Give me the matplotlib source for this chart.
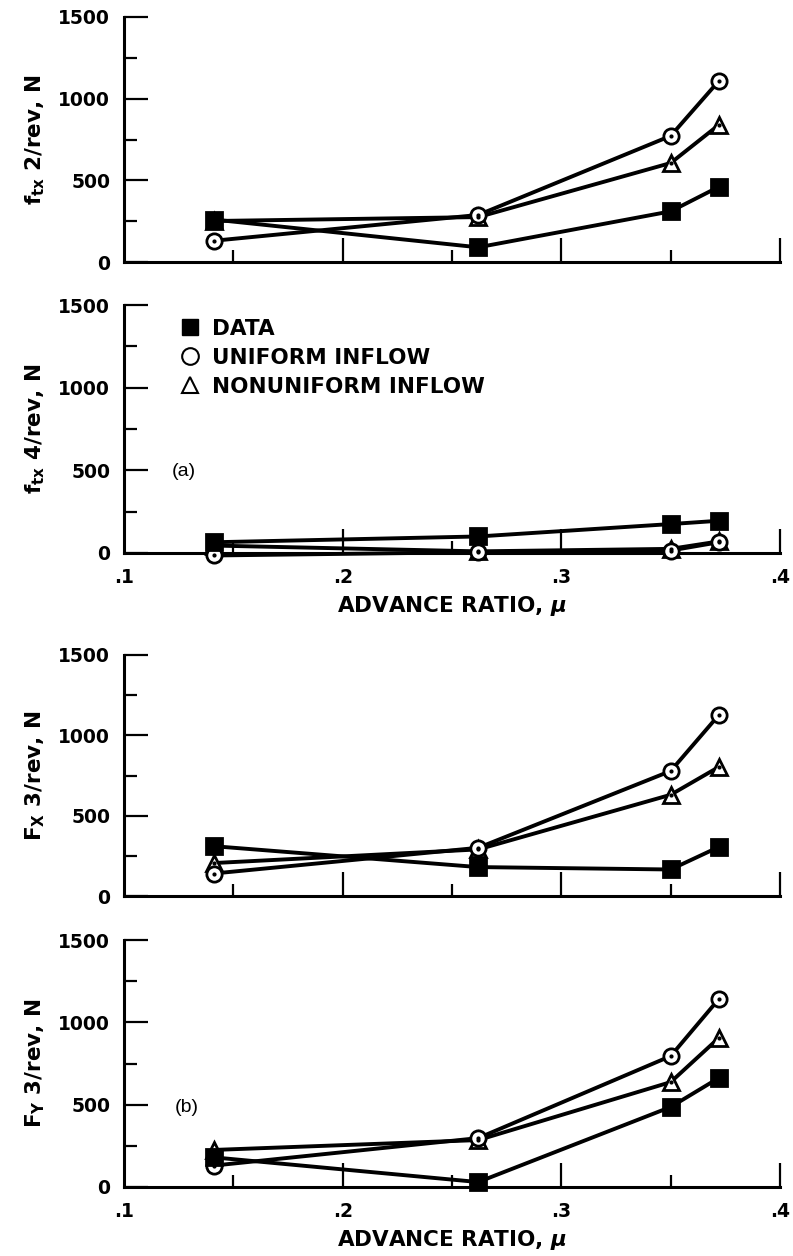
import numpy as np
import matplotlib
matplotlib.use('Agg')
import matplotlib.pyplot as plt
from matplotlib.lines import Line2D

plt.rcParams['font.family'] = ['DejaVu Sans']
plt.rcParams['font.weight'] = 'bold'
plt.rcParams['mathtext.fontset'] = 'custom'
plt.rcParams['mathtext.rm'] = 'DejaVu Sans:bold'
plt.rcParams['mathtext.it'] = 'DejaVu Sans:bold:italic'
plt.rcParams['mathtext.bf'] = 'DejaVu Sans:bold'

# advance ratio of the test points
mu = [0.141, 0.262, 0.350, 0.372]

# (a) blade chordwise force harmonics
ftx2_data = [260, 90, 310, 460]
ftx2_uniform = [130, 288, 772, 1108]
ftx2_nonuniform = [251, 275, 606, 839]

ftx4_data = [65, 100, 175, 195]
ftx4_uniform = [-15, 5, 15, 65]
ftx4_nonuniform = [45, 10, 25, 70]

# (b) hub forces 3/rev
fx3_data = [310, 180, 165, 305]
fx3_uniform = [140, 300, 778, 1126]
fx3_nonuniform = [205, 290, 630, 803]

fy3_data = [180, 30, 486, 662]
fy3_uniform = [130, 297, 795, 1141]
fy3_nonuniform = [225, 285, 637, 905]

ylabels = [r'$\mathrm{f_{tx}}$ 2/rev, N', r'$\mathrm{f_{tx}}$ 4/rev, N',
           r'$\mathrm{F_X}$ 3/rev, N', r'$\mathrm{F_Y}$ 3/rev, N']
xticks = [0.1, 0.2, 0.3, 0.4]
xticklabels = ['.1', '.2', '.3', '.4']
yticks = [0, 500, 1000, 1500]
legend_labels = ['DATA', 'UNIFORM INFLOW', 'NONUNIFORM INFLOW']

panels = [(ftx2_data, ftx2_uniform, ftx2_nonuniform),
          (ftx4_data, ftx4_uniform, ftx4_nonuniform),
          (fx3_data, fx3_uniform, fx3_nonuniform),
          (fy3_data, fy3_uniform, fy3_nonuniform)]

W, H = 793, 1256
fig = plt.figure(figsize=(W/100, H/100), dpi=100)

# axes boxes in pixels: (y of 1500, y of 0)
boxes = [(17, 262), (305, 553), (655, 896), (940, 1187)]
x0, x1 = 124, 780

def plot_series(ax, y, marker, fill):
    ax.plot(mu, y, '-', color='k', lw=2.8, zorder=3, clip_on=False)
    ax.plot(mu, y, linestyle='none', marker=marker, ms=11 if marker != 's' else 12,
            mfc=fill, mec='k', mew=2.0, zorder=4, clip_on=False)
    if fill == 'white':
        ax.plot(mu, y, linestyle='none', marker='o', ms=2, color='k', zorder=5,
                clip_on=False)

axes = []
for i, (top, bot) in enumerate(boxes):
    ax = fig.add_axes([x0/W, 1 - bot/H, (x1 - x0)/W, (bot - top)/H])
    axes.append(ax)
    data, uni, non = panels[i]
    plot_series(ax, non, '^', 'white')
    plot_series(ax, uni, 'o', 'white')
    plot_series(ax, data, 's', 'k')

    ax.set_xlim(0.1, 0.4)
    ax.set_ylim(0, 1500)
    for s in ['top', 'right']:
        ax.spines[s].set_visible(False)
    for s in ['left', 'bottom']:
        ax.spines[s].set_linewidth(2.2)
    ax.set_xticks([0.2, 0.3, 0.4])
    ax.set_xticks([0.15, 0.25, 0.35], minor=True)
    ax.set_yticks(yticks)
    ax.set_yticks([250, 750, 1250], minor=True)
    ax.tick_params(axis='both', which='major', direction='in', length=17, width=1.6,
                   labelsize=13.5, pad=10)
    ax.tick_params(axis='both', which='minor', direction='in', length=9, width=1.6)
    ax.set_ylabel(ylabels[i], fontsize=15.5, fontweight='bold', labelpad=8)
    ax.set_xticklabels([])
    if i in (1, 3):
        for x, lab in zip(xticks, xticklabels):
            ax.text(x, -0.06, lab, transform=ax.get_xaxis_transform(),
                    ha='center', va='top', fontsize=13.5, fontweight='bold')
        ax.text(0.5, -0.215, r'ADVANCE RATIO, $\mu$', transform=ax.transAxes,
                ha='center', va='center', fontsize=15.5, fontweight='bold')

# legend in panel (a)
handles = [Line2D([], [], linestyle='none', marker='s', ms=12, mfc='k', mec='k'),
           Line2D([], [], linestyle='none', marker='o', ms=12, mfc='white', mec='k', mew=1.5),
           Line2D([], [], linestyle='none', marker='^', ms=12, mfc='white', mec='k', mew=1.5)]
axes[1].legend(handles, legend_labels, loc='upper left', bbox_to_anchor=(0.0854, 0.945),
               frameon=False, borderpad=0, borderaxespad=0,
               handlelength=0.95, handletextpad=0.55, labelspacing=0.42,
               prop={'size': 15.5, 'weight': 'bold'})

axes[1].text(0.122, 490, '(a)', fontsize=14, fontweight='normal', va='center',
             family='Liberation Sans')
axes[3].text(0.123, 480, '(b)', fontsize=14, fontweight='normal', va='center',
             family='Liberation Sans')

fig.savefig('out.png', dpi=100)
